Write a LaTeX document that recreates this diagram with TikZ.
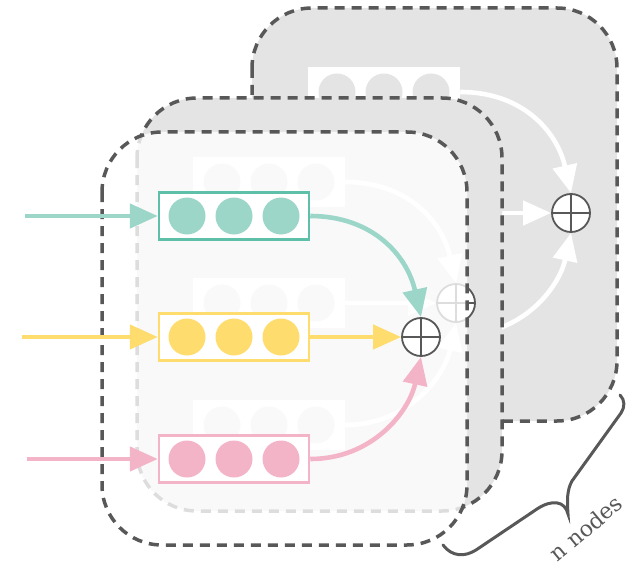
\documentclass[tikz,border=0pt]{standalone}
\usepackage{fontspec}
\setmainfont{DejaVu Serif}
\usetikzlibrary{arrows.meta, positioning, decorations.pathreplacing}
\definecolor{frame}{RGB}{88,88,88}
\definecolor{panelgray}{RGB}{228,228,228}
\definecolor{mint}{RGB}{155,214,201}
\definecolor{mintdark}{RGB}{95,192,170}
\definecolor{sun}{RGB}{255,220,110}
\definecolor{blush}{RGB}{244,180,200}

\tikzset{
  panel/.style={draw=frame, line width=3.5pt, dash pattern=on 10pt off 7pt, rounded corners=60pt},
  cell/.style={rectangle, fill=white, line width=2.5pt, minimum width=150pt, minimum height=47pt, inner sep=0pt},
  flow/.style={line width=4.6pt, -{Triangle[length=28pt, width=24pt]}},
  sum/.style={circle, draw=frame, fill=white, line width=1.8pt, minimum size=38pt, inner sep=0pt,
    path picture={\draw[frame, line width=1.8pt]
      (path picture bounding box.north) -- (path picture bounding box.south)
      (path picture bounding box.west) -- (path picture bounding box.east);}}
}

% colours of one row: line, dots, arrow
\newcommand{\setrow}[4]{\colorlet{line#1}{#2}\colorlet{dot#1}{#3}\colorlet{flow#1}{#4}}

% one node: three feature rows summed into a single output
\newcommand{\drawlayer}[3]{%
  \begin{scope}[shift={#1}, name prefix=#2-]
    \draw[panel, #3] (102,132) rectangle (467,545);
    \foreach \rw/\ry in {A/216, B/337, C/459} {
      \node[cell, draw=line\rw] (box\rw) at (234,\ry) {};
      \foreach \dx in {-47,0,47}
        \fill[dot\rw] (box\rw.center) ++(\dx,0) circle (18.5);
    }
    \node[sum] (sum) at (421,337) {};
    \draw[flow, flowA] (boxA.east) .. controls +(62,0) and +(-14,-62) .. (sum.north);
    \draw[flow, flowB] (boxB.east) -- (sum.west);
    \draw[flow, flowC] (boxC.east) .. controls +(62,0) and +(-12,55) .. (sum.south);
  \end{scope}}

\begin{document}
\begin{tikzpicture}[x=1pt, y=-1pt]
  \useasboundingbox (0,0) rectangle (629,567);

  % stacked copies behind
  \setrow{A}{white}{panelgray}{white}
  \setrow{B}{white}{panelgray}{white}
  \setrow{C}{white}{panelgray}{white}
  \drawlayer{(150,-124)}{back}{fill=panelgray}
  \drawlayer{(35,-34)}{mid}{fill=panelgray}

  % front node
  \setrow{A}{mintdark}{mint}{mint}
  \setrow{B}{sun}{sun}{sun}
  \setrow{C}{blush}{blush}{blush}
  \drawlayer{(0,0)}{front}{fill=white, fill opacity=0.8}

  % inputs
  \coordinate (inA) at (25,216);
  \coordinate (inB) at (22,337);
  \coordinate (inC) at (27,459);
  \draw[flow, mint] (inA) -- (front-boxA.west);
  \draw[flow, sun] (inB) -- (front-boxB.west);
  \draw[flow, blush] (inC) -- (front-boxC.west);

  % brace over the stack
  \draw[frame, line width=3pt, line cap=round]
    (443,545) .. controls (452,557) and (465,557) .. (476,550)
    -- (537,509)
    .. controls (552,499) and (565,501) .. (568,514)
    .. controls (567,500) and (567,490) .. (572,481)
    -- (621,413)
    .. controls (625,407) and (625,400) .. (620,395);
  \node[frame, rotate=40, inner sep=0pt, font=\fontsize{22}{24}\selectfont] (count) at (586,528) {n nodes};
\end{tikzpicture}
\end{document}
